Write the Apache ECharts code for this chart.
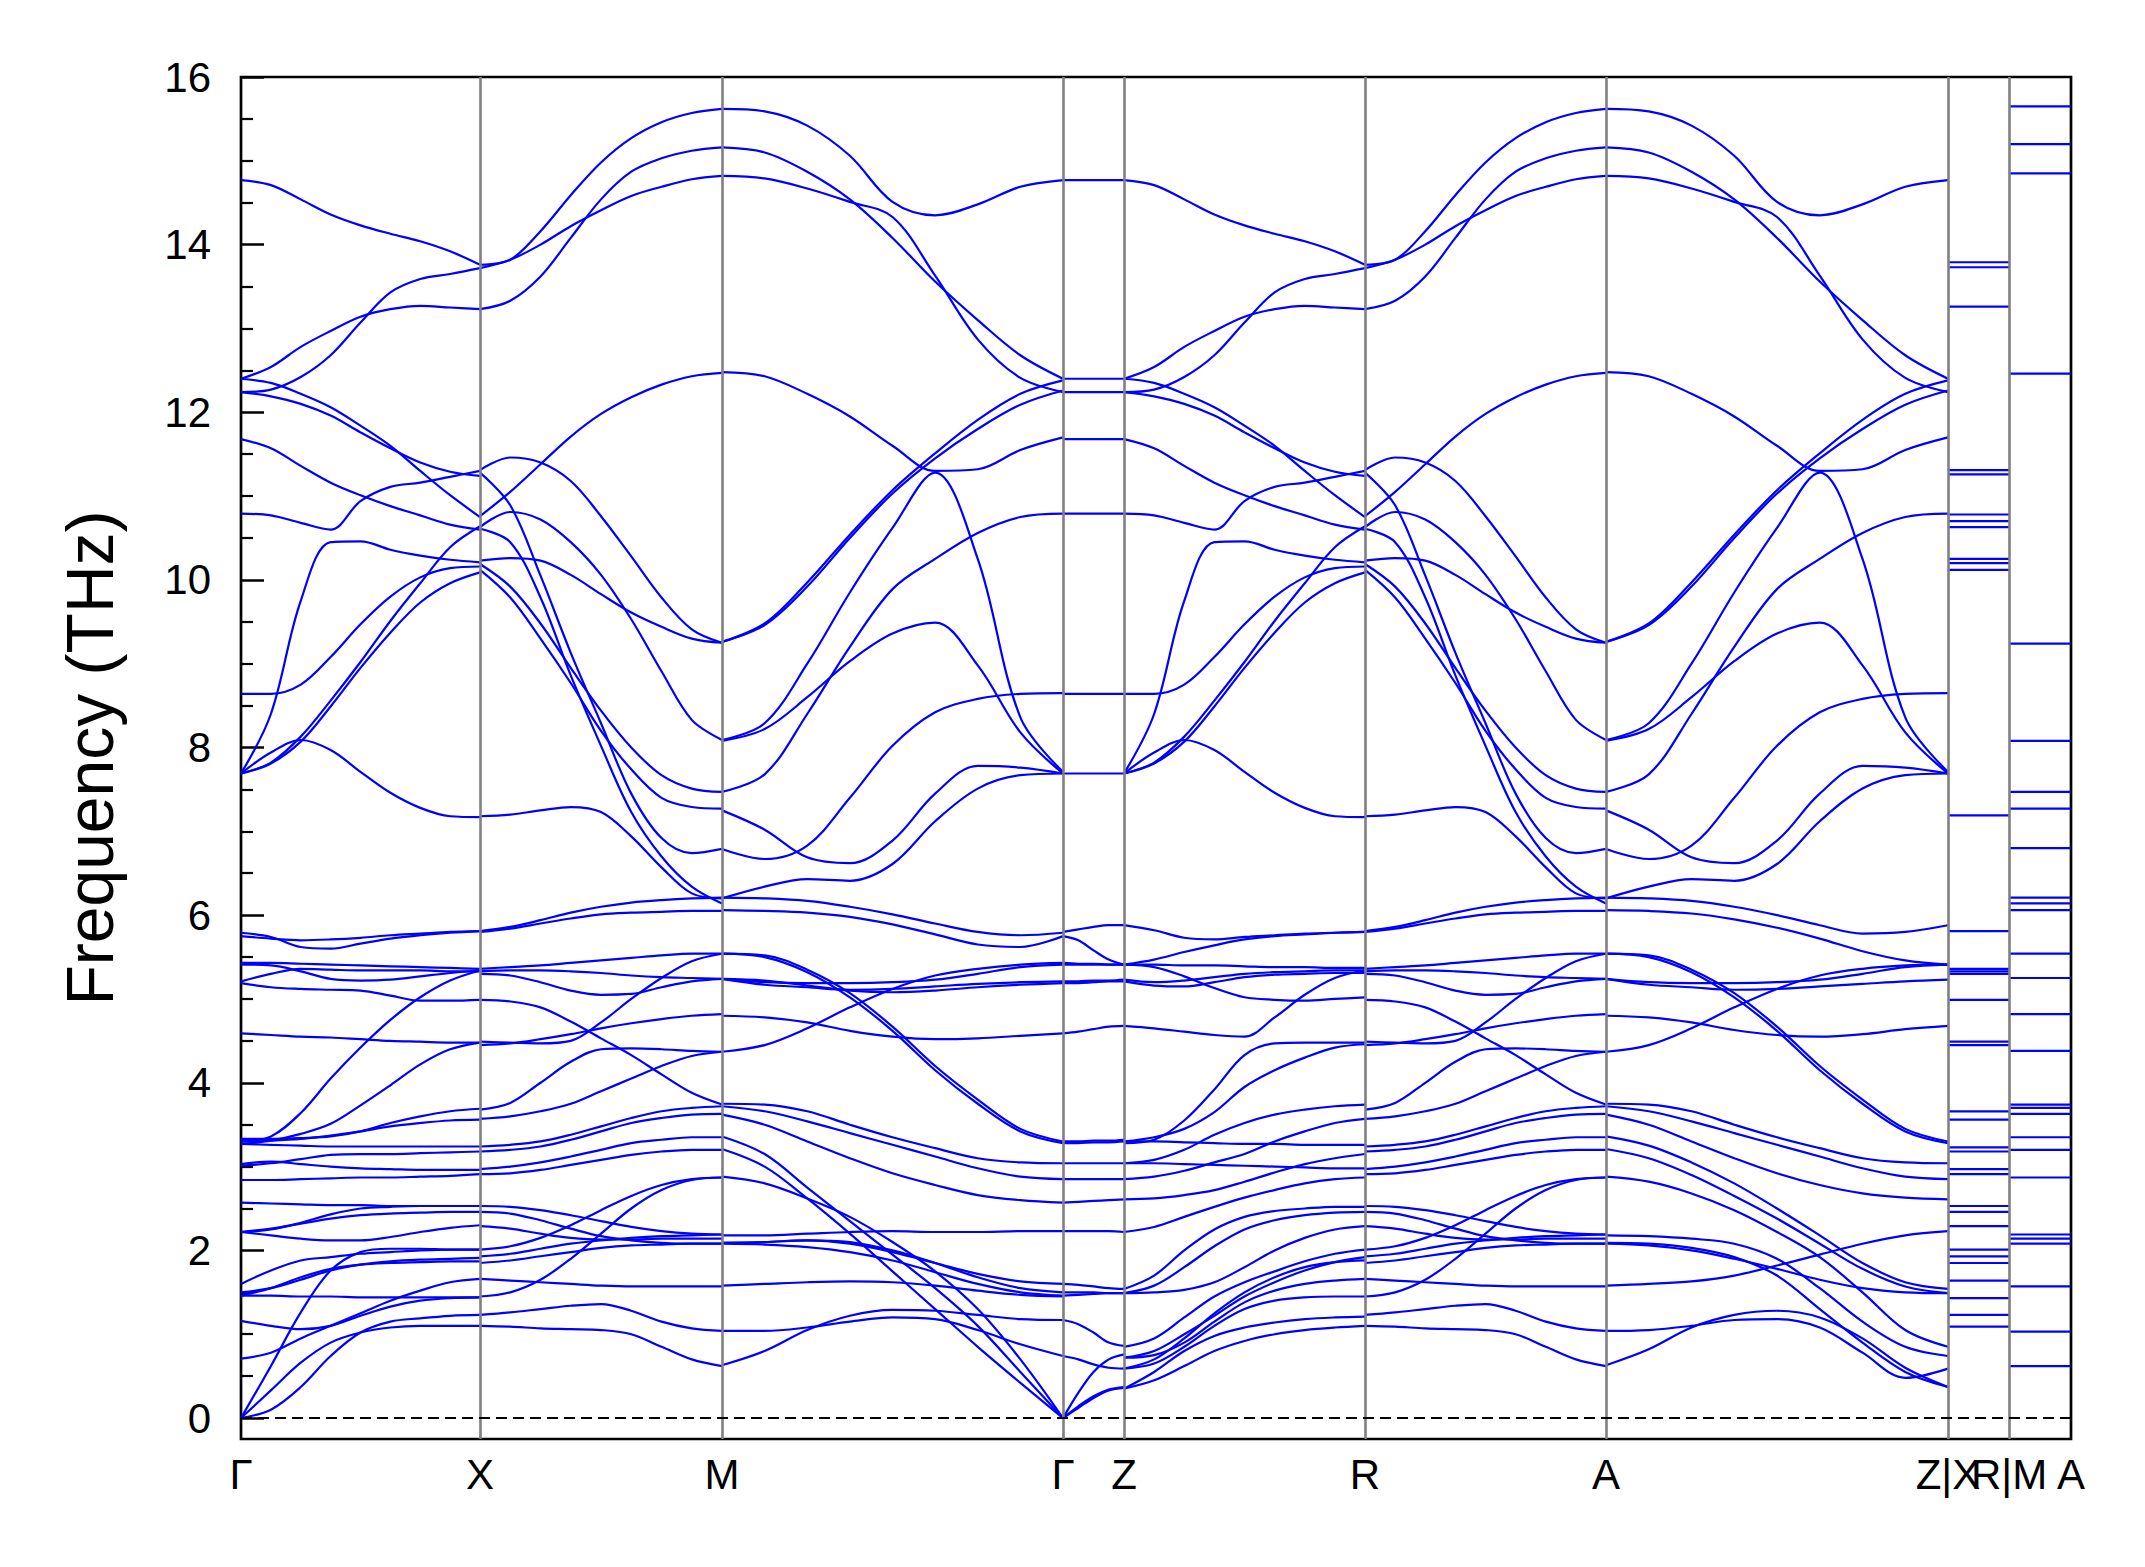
<!DOCTYPE html>
<html><head><meta charset="utf-8">
<script src="https://cdn.jsdelivr.net/npm/echarts@6/dist/echarts.min.js"></script>
<style>html,body{margin:0;padding:0;background:#fff}#c{width:2145px;height:1567px}</style>
</head><body><div id="c"></div>
<script>
// ---- high-symmetry path (k-distance, arbitrary units) ----
const kPos = [0, 239, 481, 822, 883, 1124, 1365, 1707, 1768, 1830];
const kLabels = ['Γ', 'X', 'M', 'Γ', 'Z', 'R', 'A', 'Z|X', 'R|M', 'A'];
const freqTicks = [0, 2, 4, 6, 8, 10, 12, 14, 16];
const freqMinor = [0.5, 1, 1.5, 2.5, 3, 3.5, 4.5, 5, 5.5, 6.5, 7, 7.5, 8.5, 9, 9.5, 10.5, 11, 11.5, 12.5, 13, 13.5, 14.5, 15, 15.5];

// ---- bands (THz) sampled evenly along each segment ----
// Γ-X, upper bands (also Z-R)
const bandsGXHigh = [
 [14.77,14.71,14.54,14.36,14.23,14.13,14.04,13.92,13.76],
 [12.24,12.27,12.42,12.68,13.07,13.43,13.59,13.65,13.72],
 [12.40,12.54,12.78,12.97,13.14,13.23,13.27,13.25,13.23],
 [12.40,12.35,12.22,12.06,11.84,11.60,11.30,11.01,10.75],
 [12.24,12.19,12.10,11.96,11.76,11.57,11.40,11.29,11.24],
 [11.68,11.57,11.36,11.16,11.01,10.88,10.77,10.66,10.60],
 [10.79,10.77,10.68,10.60,10.94,11.11,11.16,11.23,11.30],
 [7.69,8.40,9.75,10.45,10.46,10.36,10.29,10.24,10.21],
 [8.64,8.64,8.75,9.08,9.47,9.80,10.03,10.14,10.16],
 [7.69,7.82,8.13,8.56,9.02,9.51,9.96,10.39,10.64],
 [7.69,7.81,8.07,8.49,8.95,9.37,9.73,9.96,10.09],
 [7.69,7.94,8.09,7.97,7.71,7.46,7.28,7.18,7.17]
];
// Γ-X, lower bands
const bandsGXLow = [
 [5.79,5.74,5.62,5.60,5.66,5.72,5.76,5.79,5.81],
 [5.75,5.72,5.70,5.71,5.73,5.76,5.78,5.80,5.81],
 [5.43,5.43,5.42,5.41,5.40,5.39,5.38,5.37,5.36],
 [5.41,5.40,5.33,5.24,5.22,5.23,5.27,5.31,5.34],
 [5.21,5.30,5.36,5.35,5.34,5.34,5.34,5.33,5.33],
 [5.19,5.14,5.12,5.11,5.10,5.04,4.98,4.98,4.99],
 [4.59,4.57,4.55,4.54,4.52,4.50,4.49,4.48,4.48],
 [3.30,3.36,3.64,4.05,4.42,4.75,5.02,5.22,5.34],
 [3.27,3.31,3.39,3.51,3.73,3.97,4.22,4.40,4.48],
 [3.33,3.33,3.34,3.36,3.42,3.52,3.60,3.66,3.69],
 [3.30,3.31,3.33,3.37,3.42,3.48,3.52,3.55,3.56],
 [3.27,3.26,3.25,3.24,3.24,3.24,3.24,3.24,3.24],
 [3.03,3.06,3.03,3.00,2.98,2.97,2.96,2.96,2.96],
 [3.01,3.04,3.09,3.14,3.15,3.15,3.16,3.17,3.18],
 [2.84,2.84,2.85,2.86,2.87,2.87,2.88,2.89,2.91],
 [2.57,2.56,2.55,2.54,2.54,2.53,2.53,2.53,2.53],
 [2.22,2.26,2.32,2.38,2.42,2.44,2.45,2.46,2.46],
 [2.22,2.18,2.14,2.12,2.12,2.16,2.22,2.27,2.30],
 [2.22,2.25,2.33,2.43,2.50,2.52,2.53,2.53,2.53],
 [1.60,1.76,1.88,1.92,1.96,1.98,2.00,2.01,2.01],
 [1.50,1.55,1.65,1.76,1.83,1.87,1.89,1.90,1.91],
 [1.46,1.46,1.45,1.45,1.44,1.44,1.44,1.44,1.44],
 [1.46,1.55,1.68,1.78,1.83,1.85,1.86,1.87,1.87],
 [1.16,1.10,1.06,1.10,1.22,1.33,1.40,1.43,1.44],
 [0.71,0.78,0.95,1.10,1.25,1.40,1.52,1.62,1.66],
 [0,0.62,1.26,1.76,1.98,2.02,2.02,2.01,2.01],
 [0,0.33,0.66,0.90,1.02,1.08,1.10,1.10,1.10],
 [0,0.10,0.37,0.74,1.02,1.15,1.19,1.22,1.23]
];
// X-M (also R-A)
const bandsXM = [
 [13.76,13.82,14.16,14.59,14.98,15.27,15.46,15.57,15.62],
 [13.72,13.82,14.00,14.22,14.41,14.58,14.69,14.78,14.82],
 [13.23,13.33,13.62,14.08,14.54,14.87,15.03,15.12,15.16],
 [10.76,11.05,11.38,11.71,11.98,12.18,12.33,12.43,12.47],
 [11.31,11.46,11.40,11.18,10.76,10.28,9.79,9.41,9.25],
 [10.63,10.81,10.72,10.45,10.06,9.53,8.91,8.33,8.09],
 [10.23,10.26,10.23,10.06,9.83,9.61,9.44,9.30,9.25],
 [11.28,10.89,10.05,9.13,8.29,7.45,6.92,6.74,6.79],
 [10.61,10.45,9.79,8.86,8.02,7.23,6.70,6.34,6.14],
 [10.19,9.92,9.48,8.95,8.44,8.00,7.67,7.51,7.47],
 [10.12,9.79,9.30,8.77,8.20,7.74,7.40,7.29,7.27],
 [7.18,7.20,7.25,7.29,7.23,6.94,6.57,6.26,6.20],
 [5.81,5.86,5.94,6.03,6.10,6.15,6.18,6.20,6.21],
 [5.80,5.84,5.90,5.96,6.01,6.03,6.04,6.05,6.05],
 [5.36,5.38,5.40,5.43,5.46,5.49,5.52,5.54,5.54],
 [5.33,5.34,5.34,5.33,5.31,5.28,5.26,5.25,5.24],
 [5.30,5.28,5.20,5.10,5.05,5.06,5.14,5.21,5.24],
 [4.99,4.97,4.90,4.73,4.53,4.33,4.10,3.88,3.74],
 [4.49,4.48,4.47,4.50,4.72,5.00,5.25,5.45,5.54],
 [4.45,4.47,4.52,4.58,4.65,4.71,4.76,4.80,4.82],
 [3.68,3.76,4.00,4.25,4.40,4.41,4.40,4.38,4.37],
 [3.57,3.60,3.66,3.75,3.90,4.05,4.20,4.32,4.37],
 [3.24,3.26,3.30,3.38,3.48,3.58,3.66,3.70,3.72],
 [3.18,3.20,3.24,3.32,3.42,3.52,3.58,3.62,3.63],
 [2.97,3.00,3.05,3.12,3.20,3.28,3.32,3.35,3.35],
 [2.91,2.92,2.96,3.02,3.08,3.14,3.18,3.20,3.20],
 [2.53,2.52,2.48,2.42,2.35,2.28,2.23,2.20,2.19],
 [2.46,2.44,2.36,2.26,2.17,2.12,2.09,2.08,2.08],
 [2.29,2.26,2.20,2.15,2.13,2.13,2.14,2.14,2.14],
 [2.01,2.05,2.15,2.30,2.48,2.65,2.78,2.85,2.87],
 [1.93,1.96,2.02,2.08,2.12,2.15,2.17,2.18,2.19],
 [1.85,1.88,1.93,1.98,2.03,2.06,2.07,2.08,2.08],
 [1.66,1.64,1.62,1.60,1.58,1.57,1.57,1.57,1.57],
 [1.45,1.50,1.65,1.90,2.20,2.50,2.72,2.84,2.87],
 [1.23,1.26,1.30,1.34,1.36,1.28,1.15,1.07,1.04],
 [1.10,1.09,1.07,1.06,1.05,1.00,0.85,0.70,0.62]
];
// M-Γ, upper bands (also A-Z)
const bandsMGHigh = [
 [15.62,15.59,15.42,15.06,14.51,14.35,14.48,14.69,14.77],
 [15.16,15.10,14.87,14.54,14.08,13.56,13.10,12.68,12.40],
 [14.82,14.79,14.67,14.51,14.33,13.63,12.87,12.41,12.24],
 [12.48,12.43,12.22,11.95,11.60,11.30,11.32,11.55,11.70],
 [9.26,9.48,9.97,10.54,11.07,11.51,11.91,12.22,12.38],
 [9.26,9.46,9.92,10.50,11.03,11.45,11.80,12.09,12.26],
 [8.09,8.29,9.00,9.85,10.62,11.28,10.25,8.36,7.71],
 [8.08,8.22,8.60,9.03,9.36,9.49,8.98,8.18,7.69],
 [7.47,7.68,8.40,9.20,9.89,10.25,10.56,10.75,10.79],
 [7.25,7.02,6.69,6.62,6.89,7.45,7.78,7.76,7.69],
 [6.79,6.67,6.83,7.40,8.02,8.42,8.58,8.64,8.65],
 [6.20,6.34,6.43,6.41,6.61,7.12,7.51,7.67,7.69]
];
// M-Γ, lower bands
const bandsMGLow = [
 [6.21,6.20,6.17,6.10,6.01,5.90,5.80,5.76,5.79],
 [6.06,6.05,6.03,5.98,5.89,5.77,5.65,5.62,5.75],
 [5.54,5.52,5.35,5.07,4.67,4.20,3.80,3.45,3.30],
 [5.54,5.50,5.32,5.02,4.62,4.15,3.75,3.42,3.28],
 [5.24,5.20,5.19,5.19,5.20,5.23,5.30,5.38,5.41],
 [5.24,5.17,5.14,5.11,5.12,5.15,5.18,5.20,5.21],
 [5.24,5.22,5.16,5.10,5.08,5.10,5.14,5.17,5.19],
 [4.37,4.45,4.65,4.90,5.12,5.28,5.36,5.41,5.43],
 [4.80,4.78,4.72,4.62,4.55,4.52,4.53,4.56,4.59],
 [3.75,3.74,3.66,3.50,3.35,3.22,3.10,3.05,3.04],
 [3.72,3.66,3.54,3.40,3.26,3.12,2.98,2.88,2.85],
 [3.62,3.50,3.30,3.10,2.92,2.78,2.66,2.60,2.57],
 [3.36,3.15,2.75,2.35,1.95,1.55,1.10,0.55,0],
 [3.21,3.00,2.62,2.20,1.75,1.30,0.85,0.42,0],
 [2.88,2.80,2.62,2.40,2.10,1.75,1.30,0.70,0],
 [2.18,2.18,2.20,2.22,2.23,2.22,2.22,2.23,2.23],
 [2.09,2.10,2.12,2.08,1.98,1.85,1.72,1.63,1.60],
 [2.09,2.10,2.12,2.10,2.00,1.85,1.68,1.55,1.50],
 [2.08,2.07,2.04,1.98,1.88,1.74,1.60,1.50,1.46],
 [1.58,1.60,1.62,1.63,1.62,1.58,1.52,1.47,1.45],
 [0.63,0.80,1.05,1.22,1.29,1.28,1.23,1.18,1.17],
 [1.04,1.04,1.08,1.15,1.20,1.18,1.05,0.88,0.74]
];
// Γ-Z
const bandsGZ = [
 [14.77,14.77,14.77,14.77,14.77],
 [12.40,12.40,12.40,12.40,12.40],
 [12.24,12.24,12.24,12.24,12.24],
 [11.68,11.68,11.68,11.68,11.68],
 [10.79,10.79,10.79,10.79,10.79],
 [8.64,8.64,8.64,8.64,8.64],
 [7.69,7.69,7.69,7.69,7.69],
 [5.80,5.83,5.86,5.88,5.88],
 [5.75,5.70,5.58,5.47,5.41],
 [5.43,5.42,5.42,5.41,5.41],
 [5.41,5.41,5.41,5.41,5.41],
 [5.21,5.21,5.22,5.22,5.23],
 [5.19,5.19,5.20,5.21,5.21],
 [4.59,4.61,4.64,4.67,4.68],
 [3.30,3.30,3.31,3.31,3.32],
 [3.28,3.28,3.29,3.29,3.30],
 [3.04,3.04,3.04,3.04,3.04],
 [2.85,2.85,2.85,2.85,2.85],
 [2.57,2.58,2.59,2.60,2.61],
 [2.23,2.23,2.23,2.23,2.22],
 [1.60,1.59,1.57,1.55,1.54],
 [1.50,1.50,1.50,1.49,1.49],
 [1.46,1.47,1.48,1.49,1.49],
 [1.17,1.12,1.02,0.90,0.86],
 [0.74,0.70,0.64,0.60,0.59],
 [0,0.30,0.55,0.70,0.76],
 [0,0.14,0.26,0.34,0.37],
 [0,0.12,0.24,0.33,0.36]
];
// Z-R, lower bands
const bandsZRLow = [
 [5.88,5.82,5.73,5.71,5.74,5.76,5.78,5.79,5.80],
 [5.41,5.47,5.56,5.64,5.71,5.75,5.77,5.79,5.80],
 [5.41,5.41,5.40,5.40,5.39,5.38,5.38,5.37,5.37],
 [5.41,5.38,5.27,5.13,5.02,4.99,4.98,5.00,5.02],
 [5.23,5.20,5.22,5.26,5.30,5.32,5.33,5.34,5.34],
 [5.21,5.16,5.15,5.20,5.26,5.29,5.30,5.31,5.31],
 [4.68,4.65,4.61,4.57,4.55,4.78,5.05,5.25,5.34],
 [3.28,3.32,3.55,3.92,4.33,4.47,4.48,4.48,4.48],
 [3.30,3.35,3.45,3.65,3.95,4.15,4.30,4.42,4.46],
 [3.04,3.08,3.20,3.38,3.52,3.62,3.68,3.72,3.74],
 [2.85,2.88,2.95,3.05,3.15,3.30,3.42,3.52,3.57],
 [3.30,3.30,3.29,3.28,3.27,3.27,3.26,3.26,3.26],
 [2.61,2.62,2.66,2.72,2.82,2.93,3.03,3.10,3.15],
 [3.04,3.04,3.03,3.02,3.01,3.00,2.99,2.98,2.98],
 [2.22,2.28,2.40,2.52,2.63,2.72,2.80,2.85,2.87],
 [1.54,1.70,2.00,2.25,2.40,2.47,2.50,2.52,2.52],
 [1.49,1.58,1.80,2.05,2.25,2.36,2.42,2.45,2.46],
 [1.49,1.50,1.53,1.62,1.80,2.00,2.15,2.25,2.29],
 [0.85,0.95,1.20,1.45,1.62,1.75,1.87,1.96,2.01],
 [0.72,0.80,1.00,1.22,1.45,1.62,1.76,1.86,1.92],
 [0.59,0.65,0.85,1.10,1.30,1.40,1.44,1.45,1.45],
 [0.35,0.55,0.80,0.98,1.08,1.14,1.18,1.20,1.21],
 [0.35,0.45,0.62,0.80,0.92,1.00,1.05,1.08,1.10],
 [0.72,0.75,0.90,1.15,1.38,1.52,1.60,1.64,1.66],
 [0.59,0.70,0.95,1.25,1.50,1.68,1.80,1.86,1.88]
];
// A-Z, lower bands
const bandsAZLow = [
 [6.21,6.20,6.17,6.10,6.00,5.88,5.78,5.80,5.88],
 [6.06,6.05,6.02,5.95,5.85,5.72,5.57,5.46,5.41],
 [5.54,5.52,5.35,5.07,4.67,4.20,3.80,3.45,3.30],
 [5.54,5.50,5.32,5.02,4.62,4.15,3.75,3.42,3.28],
 [5.24,5.20,5.19,5.19,5.20,5.23,5.30,5.38,5.41],
 [5.24,5.17,5.14,5.11,5.12,5.15,5.18,5.21,5.23],
 [4.37,4.45,4.65,4.90,5.12,5.28,5.36,5.40,5.41],
 [4.80,4.78,4.72,4.63,4.57,4.55,4.58,4.64,4.68],
 [3.75,3.74,3.66,3.50,3.35,3.22,3.10,3.05,3.04],
 [3.72,3.66,3.54,3.40,3.26,3.12,2.98,2.88,2.85],
 [3.62,3.50,3.30,3.10,2.92,2.78,2.68,2.63,2.61],
 [3.36,3.25,3.05,2.80,2.50,2.18,1.85,1.62,1.54],
 [3.21,3.10,2.90,2.65,2.38,2.08,1.78,1.57,1.49],
 [2.88,2.82,2.68,2.48,2.22,1.92,1.50,1.05,0.85],
 [2.18,2.17,2.14,2.08,1.90,1.55,1.15,0.85,0.74],
 [2.09,2.08,2.03,1.92,1.70,1.30,0.90,0.55,0.37],
 [2.08,2.06,2.00,1.90,1.78,1.65,1.55,1.50,1.49],
 [1.58,1.60,1.63,1.70,1.82,1.95,2.08,2.18,2.23],
 [1.04,1.05,1.10,1.17,1.18,1.08,0.78,0.48,0.59],
 [0.63,0.82,1.08,1.23,1.28,1.20,0.95,0.60,0.37]
];
// flat X-R and M-A branches
const levelsXR = [13.79,13.73,13.26,11.31,11.26,10.78,10.70,10.63,10.25,10.20,10.12,7.19,5.81,5.36,5.33,5.30,4.99,4.49,4.45,3.66,3.56,3.23,3.18,2.97,2.91,2.53,2.46,2.29,2.01,1.93,1.85,1.64,1.43,1.23,1.09];
const levelsMA = [15.65,15.20,14.85,12.46,9.24,8.08,7.47,7.27,6.80,6.21,6.14,6.06,5.54,5.25,4.82,4.38,3.74,3.70,3.63,3.35,3.20,2.87,2.19,2.14,2.08,1.57,1.03,0.62];

// which band tables are drawn on which segment of the path (node indices)
const segments = [
  [0, 1, [bandsGXHigh, bandsGXLow]],
  [1, 2, [bandsXM]],
  [2, 3, [bandsMGHigh, bandsMGLow]],
  [3, 4, [bandsGZ]],
  [4, 5, [bandsGXHigh, bandsZRLow]],
  [5, 6, [bandsXM]],
  [6, 7, [bandsMGHigh, bandsAZLow]]
];
const flatSegments = [[7, 8, levelsXR], [8, 9, levelsMA]];

const FONT = "'Liberation Sans', Arial, Helvetica, sans-serif";
const BLUE = '#0000ff';
const series = [];

series.push({
  type: 'line', data: [], z: 1, silent: true, animation: false,
  markLine: {
    silent: true, symbol: ['none', 'none'], label: {show: false}, animation: false,
    data: kPos.slice(1, -1).map(v => ({xAxis: v, lineStyle: {color: '#808080', width: 2.6, type: 'solid'}}))
      .concat([{yAxis: 0, lineStyle: {color: '#000', width: 2, type: [11, 6]}}])
  }
});

const lineBase = {type: 'line', showSymbol: false, symbol: 'none', silent: true, animation: false, z: 3,
  lineStyle: {color: BLUE, width: 2.2}, itemStyle: {color: BLUE}};

segments.forEach(([a, b, tables]) => {
  const x0 = kPos[a], x1 = kPos[b];
  tables.forEach(tbl => tbl.forEach(vals => {
    const n = vals.length;
    series.push(Object.assign({}, lineBase, {
      smooth: 0.35,
      data: vals.map((v, i) => [x0 + (x1 - x0) * i / (n - 1), v])
    }));
  }));
});
flatSegments.forEach(([a, b, lv]) => {
  lv.forEach(v => series.push(Object.assign({}, lineBase, {data: [[kPos[a], v], [kPos[b], v]]})));
});

const chart = echarts.init(document.getElementById('c'), null, {renderer: 'svg'});
chart.setOption({
  animation: false,
  backgroundColor: '#fff',
  grid: {left: 241, top: 77, width: 1830, height: 1362, show: true, borderColor: '#000', borderWidth: 2.7, backgroundColor: 'transparent'},
  xAxis: {
    type: 'value', min: 0, max: 1830,
    axisLine: {show: false}, axisTick: {show: false}, splitLine: {show: false},
    axisLabel: {customValues: kPos, formatter: v => { const i = kPos.indexOf(v); return i >= 0 ? kLabels[i] : ''; },
      fontSize: 42, color: '#000', margin: 14, fontFamily: FONT, hideOverlap: false}
  },
  yAxis: [{
    type: 'value', min: -0.25, max: 16, position: 'left', offset: 0,
    axisLine: {show: false}, splitLine: {show: false},
    axisTick: {show: true, inside: true, length: 23, customValues: freqTicks, lineStyle: {color: '#000', width: 2.5}},
    axisLabel: {customValues: freqTicks, fontSize: 42, color: '#000', margin: 30, fontFamily: FONT},
    name: 'Frequency (THz)', nameLocation: 'middle', nameRotate: 90, nameGap: 118,
    nameTextStyle: {fontSize: 66, color: '#000', fontFamily: FONT}
  }, {
    type: 'value', min: -0.25, max: 16, position: 'left', offset: 0,
    axisLine: {show: false}, splitLine: {show: false}, axisLabel: {show: false},
    axisTick: {show: true, inside: true, length: 12, customValues: freqMinor, lineStyle: {color: '#000', width: 2.2}}
  }],
  series: series
});
</script>
</body></html>
